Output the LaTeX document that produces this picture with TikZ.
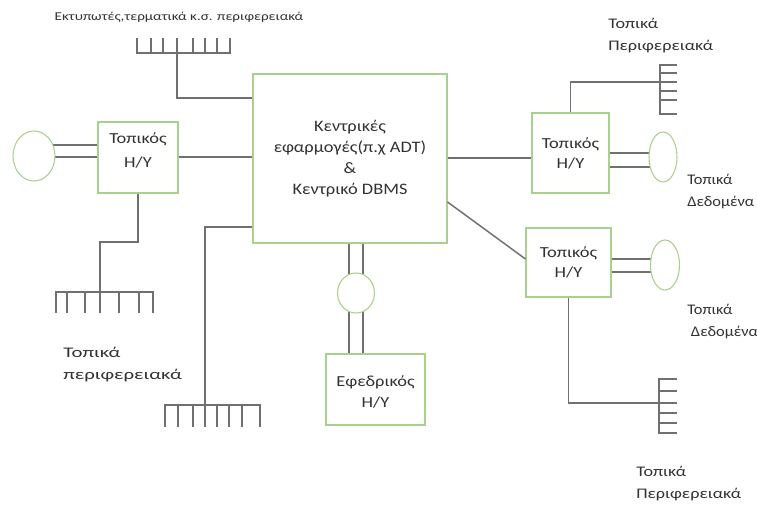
\documentclass[tikz,border=0pt]{standalone}
\usepackage{fontspec}
\setmainfont{Carlito}
\usetikzlibrary{shapes.geometric}
\definecolor{boxgreen}{RGB}{169,208,142}
\definecolor{wiregray}{RGB}{112,112,112}
\definecolor{ink}{RGB}{50,50,50}
% horizontally widened text
\newcommand{\wide}[2][1.2]{\scalebox{#1}[1]{#2}}

\begin{document}
\begin{tikzpicture}[x=0.75pt,y=-0.75pt,
  unit/.style={draw=boxgreen, line width=0.8pt, fill=white, inner sep=0pt,
    text=ink, align=center, font=\fontsize{11.5}{15}\selectfont},
  unittext/.style={text=ink, align=center, inner sep=0pt, font=\fontsize{11.5}{18}\selectfont},
  disk/.style={ellipse, draw=boxgreen, line width=0.8pt, fill=white, inner sep=0pt},
  wire/.style={draw=wiregray, line width=1.1pt},
  lbl/.style={text=ink, align=left, inner sep=0pt, font=\fontsize{11}{16.5}\selectfont}
]
\useasboundingbox (0,0) rectangle (757,505);

% ---- computers ----
\node[unit, minimum width=145.5pt, minimum height=126.75pt,
      font=\fontsize{12}{15.75}\selectfont] (cbox) at (350,158.5)
  {\wide[1.15]{Κεντρικές}\\\wide[1.15]{εφαρμογές(π.χ ADT)}\\\wide[1.15]{\&}\\\wide[1.15]{Κεντρικό DBMS}};
\node[unit, minimum width=60pt, minimum height=53.25pt] (lbox) at (138,157.5) {};
\node[unittext] (ltext) at ([yshift=5pt]lbox.center) {\wide{Τοπικός}\\\wide{H/Y}};
\node[unit, minimum width=57.75pt, minimum height=60pt] (rbox1) at (570.5,153) {\wide{Τοπικός}\\\wide{H/Y}};
\node[unit, minimum width=63.75pt, minimum height=51.75pt] (rbox2) at (568.5,262.5) {\wide{Τοπικός}\\\wide{H/Y}};
\node[unit, minimum width=74.25pt, minimum height=53.25pt] (ebox) at (375.5,389.5) {};
\node[unittext, font=\fontsize{11.5}{16}\selectfont] (etext) at ([yshift=-2pt]ebox.center) {\wide{Εφεδρικός}\\\wide{H/Y}};

% ---- storage centres and comb joints ----
\coordinate (ldc) at (34,156);
\coordinate (cdc) at (356,293);
\coordinate (r1dc) at (663,157);
\coordinate (r2dc) at (665,265);
\coordinate (tcomb) at (177,53);
\coordinate (ljoin) at (100,242);
\coordinate (lcomb) at (100,292);
\coordinate (bcomb) at (205,405);
\coordinate (rtcomb) at (660,82);
\coordinate (rbcomb) at (659,403);

% ---- links between computers ----
\draw[wire] (lbox.east |- 0,157) -- (cbox.west |- 0,157);
\draw[wire] (cbox.east |- 0,158) -- (rbox1.west |- 0,158);
\draw[wire] (cbox.east |- 0,202) -- (rbox2.west |- 0,259);

% ---- double links to storage ----
\draw[wire] (lbox.west |- 0,145) -- (ldc |- 0,145);
\draw[wire] (lbox.west |- 0,157) -- (ldc |- 0,157);
\draw[wire] (rbox1.east |- 0,153) -- (r1dc |- 0,153);
\draw[wire] (rbox1.east |- 0,167) -- (r1dc |- 0,167);
\draw[wire] (rbox2.east |- 0,259) -- (r2dc |- 0,259);
\draw[wire] (rbox2.east |- 0,272) -- (r2dc |- 0,272);
\draw[wire] (cbox.south -| 349,0) -- (ebox.north -| 349,0);
\draw[wire] (cbox.south -| 363,0) -- (ebox.north -| 363,0);

% ---- storage ----
\node[disk, minimum width=31.5pt, minimum height=37.5pt] (ldisk) at (ldc) {};
\node[disk, minimum width=27.75pt, minimum height=30pt] (cdisk) at (cdc) {};
\node[disk, minimum width=21pt, minimum height=37.5pt] (r1disk) at (r1dc) {};
\node[disk, minimum width=21.75pt, minimum height=37.5pt] (r2disk) at (r2dc) {};

% ---- peripheral buses ----
\draw[wire] (cbox.west |- 0,98) -| (tcomb);
\draw[wire] (lbox.south) |- (ljoin) -- (lcomb);
\draw[wire] (cbox.west |- 0,227) -| (bcomb);
\draw[wire] (rbox1.north) |- (rtcomb);
\draw[wire] (rbox2.south) |- (rbcomb);

% ---- peripheral combs ----
\draw[wire] (137,38) -- (137,53) -- (230,53) -- (230,38);
\foreach \x in {151,163,177,193,205,217} \draw[wire] (\x,53) -- (\x,38);

\draw[wire] (56,313) -- (56,292) -- (153,292) -- (153,313);
\foreach \x in {67,85,100,119,139} \draw[wire] (\x,292) -- (\x,313);

\draw[wire] (165,427) -- (165,405) -- (260,405) -- (260,427);
\foreach \x in {178,193,205,217,229,242} \draw[wire] (\x,405) -- (\x,427);

\draw[wire] (677,65) -- (660,65) -- (660,114) -- (677,114);
\foreach \y in {73,82,91,100} \draw[wire] (660,\y) -- (677,\y);

\draw[wire] (677,379) -- (659,379) -- (659,433) -- (677,433);
\foreach \y in {391,403,413,423} \draw[wire] (659,\y) -- (677,\y);

% ---- captions ----
\node[text=ink, inner sep=0pt, font=\fontsize{9}{11}\selectfont] (tcap) at (179,17)
  {\wide[1.26]{Εκτυπωτές,τερματικά κ.σ. περιφερειακά}};
\node[lbl, anchor=west] (lcap) at (63,365) {\wide[1.42]{Τοπικά}\\\wide[1.42]{περιφερειακά}};
\node[lbl, anchor=west] (rtcap) at (608,36) {\wide[1.24]{Τοπικά}\\\wide[1.24]{Περιφερειακά}};
\node[lbl, anchor=west] (d1cap) at (687,192) {\wide[1.12]{Τοπικά}\\\wide[1.12]{Δεδομένα}};
\node[lbl, anchor=west] (d2cap) at (687,322) {\wide[1.12]{Τοπικά}\\\wide[1.12]{\ Δεδομένα}};
\node[lbl, anchor=west] (rbcap) at (636,484) {\wide[1.24]{Τοπικά}\\\wide[1.24]{Περιφερειακά}};
\end{tikzpicture}
\end{document}
